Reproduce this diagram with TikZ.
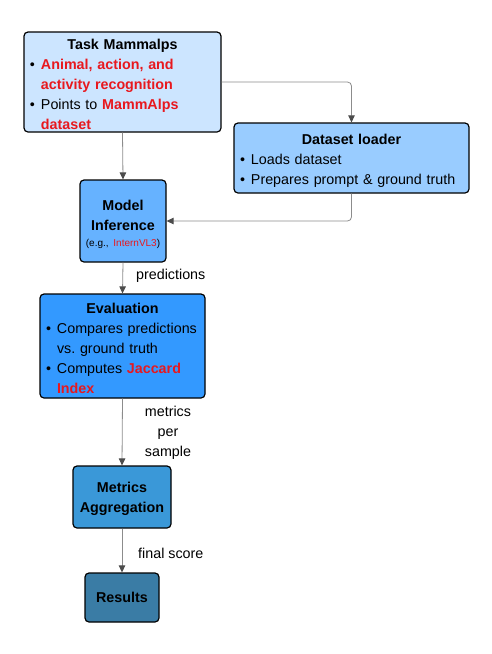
\documentclass[tikz,border=0pt]{standalone}
\usepackage{fontspec}
\setmainfont{Liberation Sans}
\usetikzlibrary{arrows.meta}
\definecolor{hred}{RGB}{232,24,30}
\definecolor{cA}{RGB}{204,229,255}
\definecolor{cB}{RGB}{153,204,255}
\definecolor{cC}{RGB}{102,178,255}
\definecolor{cD}{RGB}{51,153,255}
\definecolor{cE}{RGB}{58,152,216}
\definecolor{cF}{RGB}{58,124,165}
\newcommand\bl{\par\noindent\makebox[11pt][l]{\textbullet}}
\newcommand\cl{\par\noindent\hspace*{11pt}}
\newcommand\ttl[1]{{\centering\bfseries\rule{0pt}{16pt}#1\par}}
\begin{document}
\begin{tikzpicture}[x=1pt,y=-1pt,
  box/.style={draw=black, line width=1.2pt, rounded corners=4pt, inner xsep=6pt, inner ysep=0pt,
    font=\fontsize{14.3}{20}\selectfont, text=black},
  conn/.style={draw=black!45, line width=0.8pt, -{Triangle[length=7pt,width=6.5pt,color=black!70]}},
  lbl/.style={font=\fontsize{14.3}{20}\selectfont, inner sep=0pt, text=black}]
\useasboundingbox (0,0) rectangle (492,654);
\node[box, fill=cA, minimum width=197pt, minimum height=100pt, text width=185pt, align=left] (task) at (122.5,82)
 {\ttl{Task Mammalps}\bl\textcolor{hred}{\bfseries Animal, action, and}\cl\textcolor{hred}{\bfseries activity recognition}\bl Points to \textcolor{hred}{\bfseries MammAlps}\cl\textcolor{hred}{\bfseries dataset}\par};
\node[box, fill=cB, minimum width=235pt, minimum height=70pt, text width=223pt, align=left] (loader) at (351.5,158)
 {\ttl{Dataset loader}\bl Loads dataset\bl Prepares prompt \& ground truth\par};
\node[box, fill=cC, minimum width=86pt, minimum height=82pt, inner xsep=2pt, text width=82pt, align=center] (model) at (123,221)
 {\bfseries\rule{0pt}{17pt}Model\\Inference\\[-4pt]{\mdseries\fontsize{10}{12}\selectfont (e.g., \textcolor{hred}{InternVL3})}\par};
\node[box, fill=cD, minimum width=165pt, minimum height=104pt, text width=153pt, align=left] (eval) at (122.5,346)
 {\ttl{Evaluation}\bl Compares predictions\cl vs.\ ground truth\bl Computes \textcolor{hred}{\bfseries Jaccard}\cl\textcolor{hred}{\bfseries Index}\par};
\node[box, fill=cE, minimum width=98pt, minimum height=62pt, inner xsep=2pt, text width=94pt, align=center] (agg) at (122,497)
 {\bfseries\rule{0pt}{14pt}Metrics\\Aggregation\par};
\node[box, fill=cF, minimum width=74pt, minimum height=49pt, inner xsep=2pt, text width=70pt, align=center] (res) at (122,597.5)
 {\bfseries Results\par};
\draw[conn] (task.south) -- (model.north);
\draw[conn, rounded corners=4pt] (task.east) -| (loader.north);
\draw[conn, rounded corners=4pt] (loader.south) |- (model.east);
\draw[conn] (model.south) -- (eval.north);
\draw[conn] (eval.south) -- (agg.north);
\draw[conn] (agg.south) -- (res.north);
\node[lbl, anchor=west] (lp) at (136,276) {predictions};
\node[lbl, align=center] (lm) at (168,433) {metrics\\per\\sample};
\node[lbl, anchor=west] (lf) at (138,553) {final score};
\end{tikzpicture}
\end{document}
